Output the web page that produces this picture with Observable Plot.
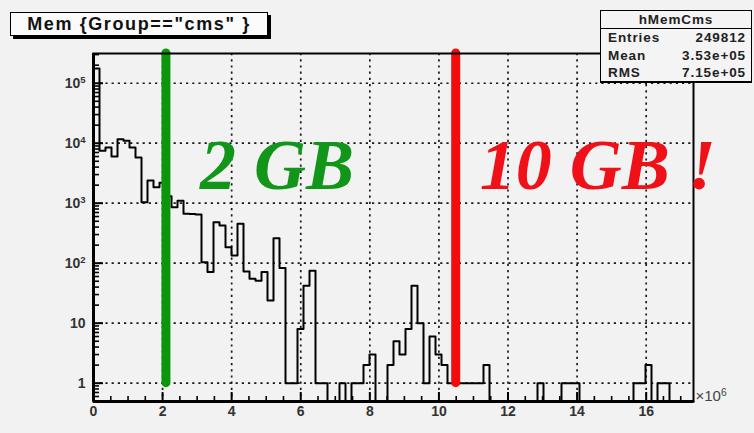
<!DOCTYPE html>
<html>
<head>
<meta charset="utf-8">
<script src="https://cdn.jsdelivr.net/npm/d3@7"></script>
<script src="https://cdn.jsdelivr.net/npm/@observablehq/plot@0.6"></script>
<style>
  html, body { margin: 0; padding: 0; background: #f2f2f2; }
  #wrap { position: relative; width: 754px; height: 433px; font-family: "Liberation Sans", Arial, sans-serif; }
  #chart { position: absolute; left: 0; top: 0; }
  .title-box {
    position: absolute; left: 10px; top: 12px; width: 256px; height: 22px;
    background: #fbfbfb; border: 1px solid #000; box-shadow: 3px 3px 0 #000;
    font-weight: bold; font-size: 18px; letter-spacing: 1.6px; line-height: 22px;
    text-align: center; color: #111; white-space: nowrap;
  }
  .stats-box {
    position: absolute; left: 600px; top: 10px; width: 150px; height: 70px;
    background: #f4f4f4; border: 1.5px solid #000; border-bottom-width: 2.5px;
    font-size: 13.5px; font-weight: bold; color: #222; letter-spacing: 0.9px;
  }
  .stats-head { height: 17px; line-height: 18px; text-align: center; border-bottom: 1.5px solid #000; }
  .stats-row { display: flex; justify-content: space-between; height: 17.5px; line-height: 17.5px; padding: 0 5px 0 7px; }
</style>
</head>
<body>
<div id="wrap">
  <div id="chart"></div>
  <div class="title-box" id="title"></div>
  <div class="stats-box" id="stats"></div>
</div>
<script>
// Histogram of job memory (kB) for Group=="cms": 100 equal bins over [0, 17.37e6]
const histName = "hMemCms";
const histTitle = 'Mem {Group=="cms" }';
const binLow = 0;
const binHigh = 17.37e6;
const counts = [
  176000, 7500, 8500, 6000, 11700, 11000, 8500, 5800, 1040, 2400,
  1850, 2200, 1300, 860, 1100, 670, 660, 650, 104, 71,
  480, 425, 185, 134, 455, 73, 55, 51, 71, 24,
  260, 83, 1, 1, 8, 42, 75, 1, 1, 0,
  0, 1, 0, 1, 1, 2, 3, 0, 0, 2,
  5, 3, 8, 42, 10, 1, 6, 3, 2, 1,
  1, 1, 1, 1, 1, 2, 0, 0, 0, 0,
  0, 0, 0, 0, 1, 0, 0, 0, 1, 1,
  1, 0, 0, 0, 0, 0, 0, 0, 0, 0,
  1, 1, 2, 0, 1, 1, 0, 0, 0, 0
];

// statistics box
const statNames = ["Entries", "Mean", "RMS"];
const statValues = ["249812", "3.53e+05", "7.15e+05"];

// axes
const xTicks = [0, 2e6, 4e6, 6e6, 8e6, 10e6, 12e6, 14e6, 16e6];
const xTickLabels = ["0", "2", "4", "6", "8", "10", "12", "14", "16"];
const xExponentLabel = "×10⁶";
const yTicks = [1, 10, 100, 1000, 10000, 100000];
const yTickLabels = ["1", "10", "10²", "10³", "10⁴", "10⁵"];
const yDomain = [0.495, 3.13e5];

// memory limits marked on the plot (kB)
const limitValues = [2 * 1024 * 1024, 10 * 1024 * 1024];
const limitLabels = ["2 GB", "10 GB !"];
const limitLineColors = ["#0c960c", "#f20c0c"];
const limitTextColors = ["#12961a", "#f01018"];

// ---- layout ----
const W = 754, H = 433;
const mL = 93, mR = 61, mT = 53, mB = 32;
const plotW = W - mL - mR, plotH = H - mT - mB;

const nBins = counts.length;
const binW = (binHigh - binLow) / nBins;
const floor = yDomain[0];
// outline points: empty bins fall to the bottom of the frame (log scale)
const outline = [{x: binLow, y: floor}];
counts.forEach((c, i) => outline.push({x: binLow + i * binW, y: c > 0 ? c : floor}));
outline.push({x: binHigh, y: floor});

// minor ticks: 2..9 per decade on y, every 0.5e6 on x
const minorY = [];
for (let e = -1; e <= 5; e++) for (let m = 2; m <= 9; m++) {
  const v = m * Math.pow(10, e);
  if (v > yDomain[0] && v < yDomain[1]) minorY.push(v);
}
const minorX = d3.range(0.5e6, binHigh, 0.5e6).filter(v => Math.round(v / 1e6) % 2 !== 0 || Math.abs(v / 1e6 - Math.round(v / 1e6)) > 1e-9);

const gridStyle = {stroke: "#1a1a1a", strokeOpacity: 1, strokeWidth: 1.7, strokeDasharray: "2.2,4"};

const limitMarks = limitValues.map((v, i) =>
  Plot.ruleX([v], {y1: 1, y2: yDomain[1], stroke: limitLineColors[i], strokeWidth: 9, strokeLinecap: "round"})
);
const limitTexts = limitValues.map((v, i) =>
  Plot.text([limitLabels[i]], {
    x: () => v, frameAnchor: "top", textAnchor: "start", lineAnchor: "top",
    dx: i === 0 ? 34 : 24, dy: 84,
    fill: limitTextColors[i], fontSize: 72, fontWeight: "bold", fontStyle: "italic",
    fontFamily: "Liberation Serif, Times New Roman, serif"
  })
);

const chart = Plot.plot({
  width: W, height: H,
  marginLeft: mL, marginRight: mR, marginTop: mT, marginBottom: mB,
  style: {background: "transparent", fontFamily: "Liberation Sans, Arial, sans-serif", overflow: "visible"},
  x: {domain: [binLow, binHigh]},
  y: {type: "log", domain: yDomain},
  marks: [
    Plot.gridX(xTicks.slice(1), gridStyle),
    Plot.gridY(yTicks, gridStyle),
    Plot.line(outline, {x: "x", y: "y", curve: "step-after", stroke: "#000", strokeWidth: 2}),
    ...limitMarks,
    // ticks drawn inside the frame
    Plot.tickY(yTicks, {y: d => d, insetRight: plotW - 10, stroke: "#000", strokeWidth: 2}),
    Plot.tickY(minorY, {y: d => d, insetRight: plotW - 6, stroke: "#000", strokeWidth: 1.6}),
    Plot.tickX(xTicks, {x: d => d, insetTop: plotH - 9, stroke: "#000", strokeWidth: 2}),
    Plot.tickX(minorX, {x: d => d, insetTop: plotH - 5, stroke: "#000", strokeWidth: 1.6}),
    Plot.axisX({ticks: xTicks, tickSize: 0, tickPadding: 5, tickFormat: d => xTickLabels[xTicks.indexOf(d)],
      fontSize: 14, fontWeight: "bold", fill: "#333", label: null}),
    Plot.axisY({ticks: yTicks, tickSize: 0, tickPadding: 8, tickFormat: d => yTickLabels[yTicks.indexOf(d)],
      fontSize: 14, fontWeight: "bold", fill: "#333", label: null}),
    Plot.frame({stroke: "#000", strokeWidth: 2}),
    Plot.ruleX([binLow], {stroke: "#000", strokeWidth: 3}),
    Plot.ruleY([yDomain[0]], {stroke: "#000", strokeWidth: 3}),
    Plot.text([xExponentLabel], {frameAnchor: "bottom-right", textAnchor: "start", lineAnchor: "bottom",
      dx: 2, dy: -1, fontSize: 15, fill: "#444"}),
    ...limitTexts
  ]
});
document.getElementById("chart").append(chart);

// typeset superscript exponents (10², ×10⁶) as raised tspans
const supMap = {"⁰": "0", "¹": "1", "²": "2", "³": "3", "⁴": "4", "⁵": "5", "⁶": "6", "⁷": "7", "⁸": "8", "⁹": "9"};
chart.querySelectorAll("text").forEach(t => {
  const s = t.textContent;
  const m = s.match(/^(.*?)([⁰¹²³⁴⁵⁶⁷⁸⁹]+)$/);
  if (!m) return;
  t.textContent = m[1];
  const sup = document.createElementNS("http://www.w3.org/2000/svg", "tspan");
  sup.setAttribute("dy", "-0.45em");
  sup.setAttribute("font-size", "0.68em");
  sup.textContent = [...m[2]].map(c => supMap[c]).join("");
  t.append(sup);
});

// title and statistics boxes
document.getElementById("title").textContent = histTitle;
const stats = document.getElementById("stats");
const head = document.createElement("div");
head.className = "stats-head";
head.textContent = histName;
stats.append(head);
statNames.forEach((n, i) => {
  const row = document.createElement("div");
  row.className = "stats-row";
  const a = document.createElement("span"); a.textContent = n;
  const b = document.createElement("span"); b.textContent = statValues[i];
  row.append(a, b);
  stats.append(row);
});
</script>
</body>
</html>
